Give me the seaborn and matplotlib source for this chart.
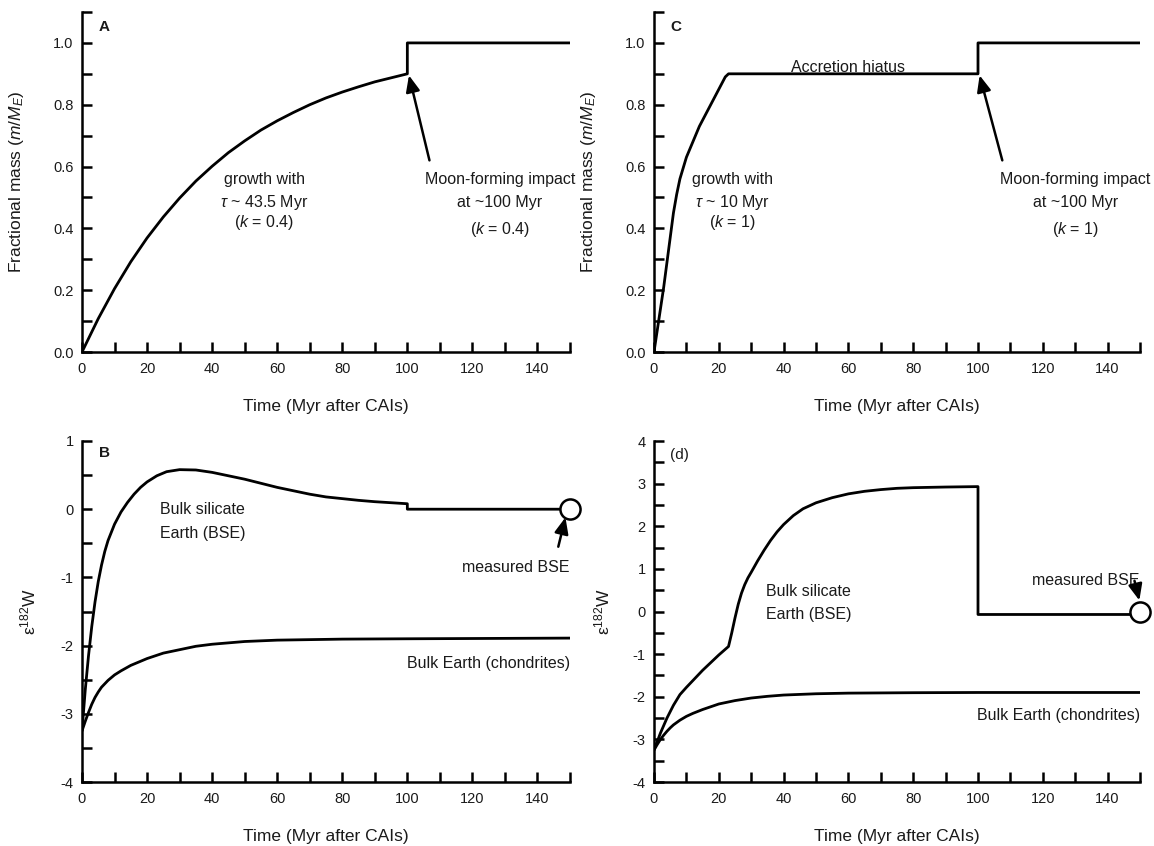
import matplotlib
matplotlib.use("Agg")
import matplotlib.pyplot as plt
from matplotlib.ticker import MultipleLocator
import seaborn as sns

# ---- Panel A: mass growth, tau ~ 43.5 Myr, giant impact at 100 Myr ----
time_a = [0, 5, 10, 15, 20, 25, 30, 35, 40, 45, 50, 55, 60, 65, 70, 75, 80,
          85, 90, 95, 100, 100, 150]
mass_a = [0.000, 0.108, 0.205, 0.292, 0.369, 0.437, 0.498, 0.553, 0.601,
          0.645, 0.683, 0.718, 0.748, 0.775, 0.800, 0.822, 0.841, 0.858,
          0.874, 0.887, 0.900, 1.000, 1.000]

# ---- Panel C: fast growth (tau ~ 10 Myr), hiatus, impact at 100 Myr ----
time_c = [0, 1, 2, 3, 4, 5, 6, 7, 8, 10, 12, 14, 16, 18, 20, 22, 23, 100, 100, 150]
mass_c = [0.00, 0.07, 0.14, 0.21, 0.29, 0.37, 0.45, 0.51, 0.56, 0.63, 0.68,
          0.73, 0.77, 0.81, 0.85, 0.89, 0.90, 0.90, 1.00, 1.00]

# ---- Panel B: epsilon-182W evolution ----
time_b_bse = [0, 1, 2, 3, 4, 5, 6, 7, 8, 10, 12, 14, 16, 18, 20, 23, 26, 30,
              35, 40, 45, 50, 55, 60, 65, 70, 75, 80, 85, 90, 95, 100, 100, 150]
eps_b_bse = [-3.25, -2.65, -2.15, -1.72, -1.36, -1.06, -0.82, -0.62, -0.46,
             -0.22, -0.04, 0.10, 0.22, 0.32, 0.40, 0.49, 0.55, 0.58, 0.575,
             0.54, 0.49, 0.44, 0.38, 0.32, 0.27, 0.22, 0.18, 0.155, 0.13,
             0.11, 0.095, 0.08, 0.00, 0.00]
time_chon = [0, 1, 2, 3, 4, 5, 6, 8, 10, 12, 15, 20, 25, 30, 35, 40, 50, 60,
             80, 100, 150]
eps_b_chon = [-3.25, -3.11, -2.98, -2.86, -2.76, -2.68, -2.61, -2.51, -2.43,
              -2.37, -2.29, -2.19, -2.11, -2.06, -2.01, -1.98, -1.94, -1.92,
              -1.905, -1.90, -1.89]

# ---- Panel D: epsilon-182W evolution with accretion hiatus ----
time_d_bse = [0, 2, 4, 6, 8, 10, 15, 20, 23, 24, 25, 26, 27, 28, 29, 30, 32,
              34, 36, 38, 40, 43, 46, 50, 55, 60, 65, 70, 75, 80, 90, 100,
              100, 150]
eps_d_bse = [-3.25, -2.85, -2.50, -2.20, -1.95, -1.78, -1.38, -1.02, -0.82,
             -0.50, -0.15, 0.17, 0.43, 0.63, 0.79, 0.92, 1.19, 1.44, 1.67,
             1.87, 2.04, 2.25, 2.41, 2.55, 2.67, 2.76, 2.82, 2.86, 2.89,
             2.905, 2.92, 2.93, -0.07, -0.07]
eps_d_chon = [-3.25, -3.12, -3.00, -2.90, -2.81, -2.73, -2.66, -2.55, -2.46,
              -2.39, -2.30, -2.17, -2.09, -2.03, -1.99, -1.96, -1.93, -1.915,
              -1.905, -1.90, -1.90]

# measured bulk silicate Earth
meas_t = [150]
meas_b = [0.0]
meas_d = [0.0]

xticks = [0, 20, 40, 60, 80, 100, 120, 140]

sns.set_style("ticks")
plt.rcParams["font.family"] = ["Liberation Sans", "DejaVu Sans"]
plt.rcParams["mathtext.fontset"] = "custom"
plt.rcParams["mathtext.rm"] = "Liberation Sans"
plt.rcParams["mathtext.it"] = "Liberation Sans:italic"
plt.rcParams["axes.unicode_minus"] = False
plt.rcParams["lines.solid_joinstyle"] = "round"

fig = plt.figure(figsize=(11.54, 8.46), dpi=100)
W, H = 1154, 846


def make_axes(left, right, top, bottom):
    return fig.add_axes([left / W, 1 - bottom / H, (right - left) / W, (bottom - top) / H])


axA = make_axes(82, 570, 12, 352)
axB = make_axes(82, 570, 441, 782)
axC = make_axes(654, 1140, 12, 352)
axD = make_axes(654, 1140, 441, 782)

LW = 2.0
TICK_FS = 10.5
LABEL_FS = 12.5
ANN_FS = 11.5
TXT = "#1a1a1a"


def style(ax, ylim, ymajor, yminor, ylabel, ylab_x):
    ax.set_xlim(0, 150)
    ax.set_ylim(*ylim)
    ax.set_xticks(xticks)
    ax.xaxis.set_minor_locator(MultipleLocator(10))
    ax.yaxis.set_major_locator(MultipleLocator(ymajor))
    ax.yaxis.set_minor_locator(MultipleLocator(yminor))
    for s in ("top", "right"):
        ax.spines[s].set_visible(False)
    for s in ("left", "bottom"):
        ax.spines[s].set_linewidth(1.8)
        ax.spines[s].set_color("black")
    ax.tick_params(which="both", direction="in", length=7, width=1.8,
                   labelsize=TICK_FS, color="black", labelcolor=TXT)
    ax.tick_params(axis="x", which="both", pad=7)
    ax.tick_params(axis="y", which="both", pad=6)
    ax.set_xlabel("Time (Myr after CAIs)", fontsize=LABEL_FS, color=TXT)
    ax.xaxis.label.set_va("center")
    ax.xaxis.set_label_coords(0.5, -54 / 340)
    ax.set_ylabel(ylabel, fontsize=LABEL_FS, color=TXT)
    ax.yaxis.label.set_va("center")
    ax.yaxis.set_label_coords(ylab_x, 0.5)


def curve(ax, t, v):
    sns.lineplot(x=t, y=v, ax=ax, color="black", linewidth=LW,
                 estimator=None, sort=False)


def note(ax, x, y, s, ha="center", **kw):
    ax.text(x, y, s, fontsize=kw.pop("fontsize", ANN_FS), ha=ha, va="center",
            color=TXT, **kw)


arrow_kw = dict(arrowstyle="-|>,head_length=0.7,head_width=0.3", color="black",
                lw=1.8, mutation_scale=14, shrinkA=0, shrinkB=0)

# ---------------- Panel A ----------------
curve(axA, time_a, mass_a)
style(axA, (0, 1.1), 0.2, 0.1, r"Fractional mass ($\mathit{m/M_E}$)", -65 / 488)
note(axA, 6.8, 1.05, "A", fontsize=11, fontweight="bold")
note(axA, 56, 0.557, "growth with")
note(axA, 56, 0.485, r"$\tau$ ~ 43.5 Myr")
note(axA, 56, 0.42, r"($\mathit{k}$ = 0.4)")
note(axA, 128.5, 0.557, "Moon-forming impact")
note(axA, 128.5, 0.485, "at ~100 Myr")
note(axA, 128.5, 0.397, r"($\mathit{k}$ = 0.4)")
axA.annotate("", xy=(100.5, 0.895), xytext=(106.8, 0.62), arrowprops=arrow_kw)

# ---------------- Panel C ----------------
curve(axC, time_c, mass_c)
style(axC, (0, 1.1), 0.2, 0.1, r"Fractional mass ($\mathit{m/M_E}$)", -65 / 486)
note(axC, 6.8, 1.05, "C", fontsize=11, fontweight="bold")
note(axC, 24.1, 0.557, "growth with")
note(axC, 24.1, 0.485, r"$\tau$ ~ 10 Myr")
note(axC, 24.1, 0.42, r"($\mathit{k}$ = 1)")
note(axC, 59.8, 0.92, "Accretion hiatus")
note(axC, 130.0, 0.557, "Moon-forming impact")
note(axC, 130.0, 0.485, "at ~100 Myr")
note(axC, 130.0, 0.397, r"($\mathit{k}$ = 1)")
axC.annotate("", xy=(100.5, 0.895), xytext=(107.5, 0.62), arrowprops=arrow_kw)

# ---------------- Panel B ----------------
curve(axB, time_b_bse, eps_b_bse)
curve(axB, time_chon, eps_b_chon)
style(axB, (-4, 1), 1, 0.5, "ε$^{182}$W", -54 / 488)
sns.scatterplot(x=meas_t, y=meas_b, ax=axB, s=210, facecolor="white",
                edgecolor="black", linewidth=1.8, clip_on=False, zorder=5)
note(axB, 6.8, 0.82, "B", fontsize=11, fontweight="bold")
note(axB, 24, -0.01, "Bulk silicate", ha="left")
note(axB, 24, -0.35, "Earth (BSE)", ha="left")
note(axB, 150, -2.26, "Bulk Earth (chondrites)", ha="right")
note(axB, 150, -0.85, "measured BSE", ha="right")
axB.annotate("", xy=(148.6, -0.12), xytext=(146.4, -0.55), arrowprops=arrow_kw)

# ---------------- Panel D ----------------
curve(axD, time_d_bse, eps_d_bse)
curve(axD, time_chon, eps_d_chon)
style(axD, (-4, 4), 1, 0.5, "ε$^{182}$W", -52 / 486)
sns.scatterplot(x=meas_t, y=meas_d, ax=axD, s=210, facecolor="white",
                edgecolor="black", linewidth=1.8, clip_on=False, zorder=5)
note(axD, 8.0, 3.67, "(d)", fontsize=11)
note(axD, 34.5, 0.48, "Bulk silicate", ha="left")
note(axD, 34.5, -0.06, "Earth (BSE)", ha="left")
note(axD, 150, -2.45, "Bulk Earth (chondrites)", ha="right")
note(axD, 150, 0.73, "measured BSE", ha="right")
axD.annotate("", xy=(149.8, 0.26), xytext=(148.3, 0.72), arrowprops=arrow_kw)

for ax in (axA, axB, axC, axD):
    leg = ax.get_legend()
    if leg is not None:
        leg.remove()

fig.savefig("out.png", dpi=100)
